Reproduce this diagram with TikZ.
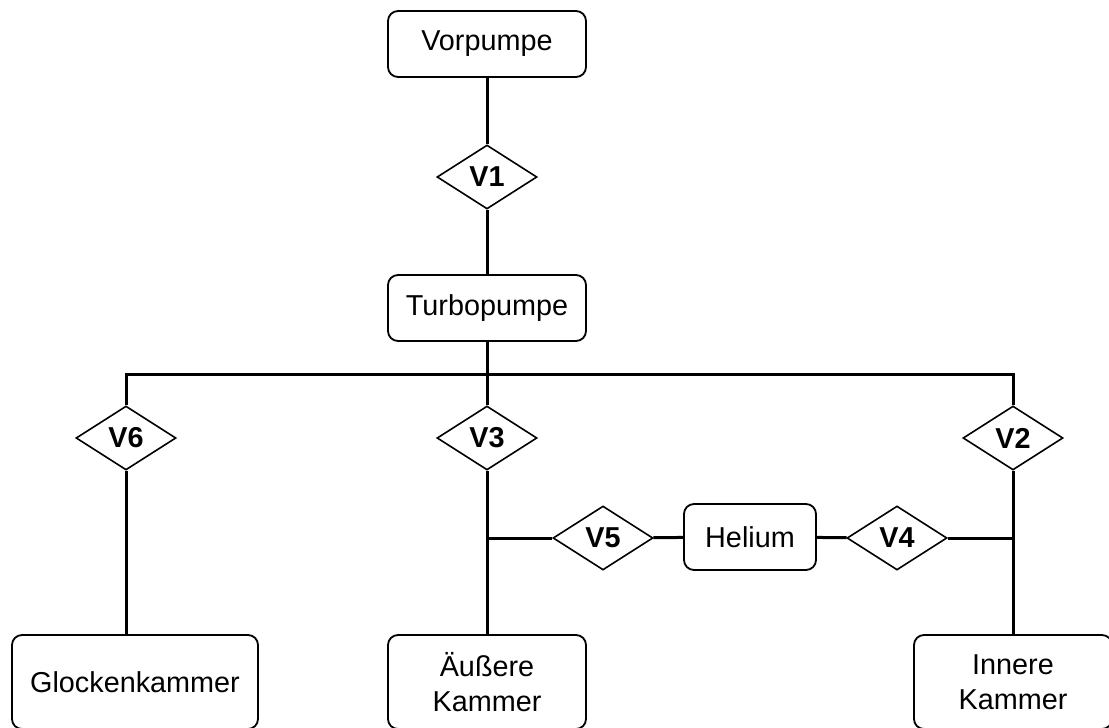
\documentclass[tikz,border=0pt]{standalone}
\usepackage{fontspec}
\setmainfont{Liberation Sans}
\usetikzlibrary{shapes.geometric}

\tikzset{every picture/.style={line width=1pt}}
\tikzset{
  box/.style={draw, rounded corners=5pt, fill=white, line width=0.9pt, minimum width=99pt, minimum height=33pt, inner sep=0.75pt, align=center, font=\fontsize{14.4}{17.5}\selectfont},
  valve/.style={draw, diamond, fill=white, line width=0.8pt, minimum width=50pt, minimum height=32pt, inner sep=0pt, font=\fontsize{14.4}{17}\selectfont\bfseries},
  pipe/.style={line width=1.5pt}
}

\begin{document}
\begin{tikzpicture}[x=0.5pt,y=0.5pt,yscale=-1,xscale=1]
\clip (0,0) rectangle (1109,728);

%Pumps
\node [box] (vor) at (487,44) {Vorpumpe};
\node [box] (turbo) at (487,308) {Turbopumpe};
%Valves
\node [valve] (v1) at (487,177) {V1};
\node [valve] (v6) at (126,438) {V6};
\node [valve] (v3) at (487,438) {V3};
\node [valve] (v2) at (1013,438) {V2};
\node [valve] (v5) at (603,538) {V5};
\node [valve] (v4) at (897,538) {V4};
%Helium supply
\node [box, minimum width=66pt] (helium) at (750,537) {Helium};
%Chambers
\node [box, minimum width=123pt, minimum height=47pt] (glocke) at (135,682) {Glockenkammer};
\node [box, minimum height=47pt] (aussen) at (487,682) {Äußere\\Kammer};
\node [box, minimum height=47pt] (innen) at (1013,682) {Innere\\Kammer};

%Junctions
\coordinate (jl) at (126,374);
\coordinate (jm) at (487,374);
\coordinate (jr) at (1013,374);
\coordinate (jh5) at (487,538);
\coordinate (jh4) at (1013,538);

%Straight Lines
\draw [pipe] (vor) -- (v1);
\draw [pipe] (v1) -- (turbo);
\draw [pipe] (turbo) -- (jm);
\draw [pipe] (v6.north) -- (jl) -- (jr) -- (v2.north);
\draw [pipe] (jm) -- (v3);
\draw [pipe] (v6.south) -- (v6.south |- glocke.north);
\draw [pipe] (v3) -- (aussen);
\draw [pipe] (v2) -- (innen);
\draw [pipe] (jh5) -- (v5);
\draw [pipe] (v5) -- (helium);
\draw [pipe] (helium) -- (v4);
\draw [pipe] (v4) -- (jh4);
\end{tikzpicture}
\end{document}
